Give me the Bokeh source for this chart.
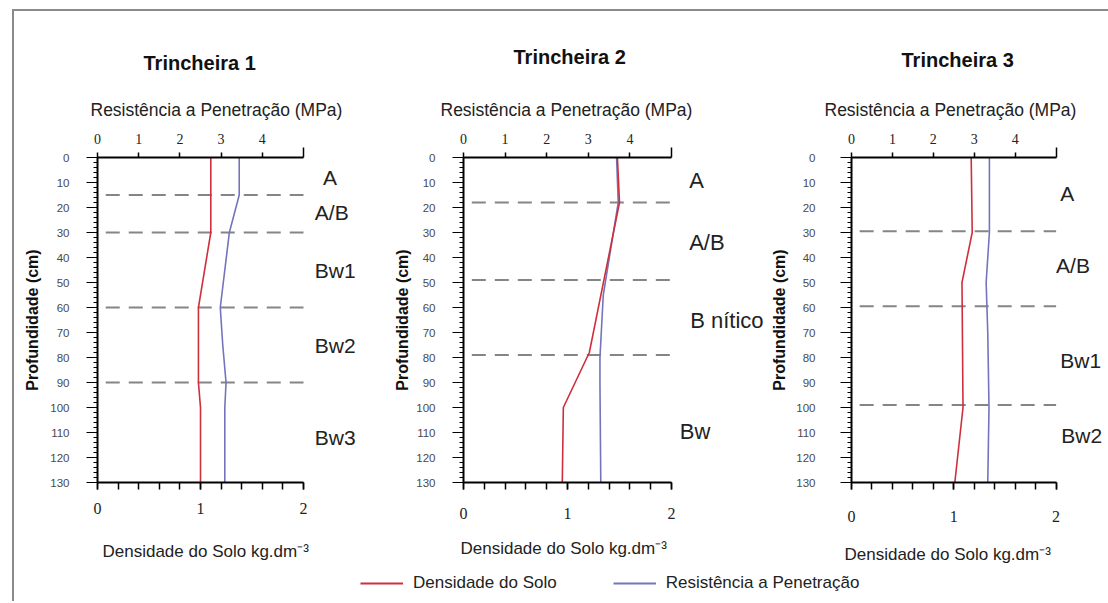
from bokeh.plotting import figure
from bokeh.models import Range1d, LinearAxis, FixedTicker, Label, Legend, LegendItem, Title
from bokeh.layouts import row, column
from bokeh.embed import file_html
from bokeh.resources import INLINE

# ---------------- data ----------------
titles = ["Trincheira 1", "Trincheira 2", "Trincheira 3"]
top_axis_title = "Resistência a Penetração (MPa)"
bottom_axis_title = "Densidade do Solo kg.dm⁻³"
depth_title = "Profundidade (cm)"
legend_labels = ["Densidade do Solo", "Resistência a Penetração"]

# Trincheira 1
dens_depth_1 = [0, 30, 60, 90, 100, 130]
dens_1 = [1.10, 1.10, 0.98, 0.98, 1.00, 1.00]
res_depth_1 = [0, 15, 30, 60, 75, 90, 100, 130]
res_1 = [3.44, 3.44, 3.20, 2.98, 3.04, 3.12, 3.09, 3.09]
bounds_1 = [15, 30, 60, 90]
horizons_1 = ["A", "A/B", "Bw1", "Bw2", "Bw3"]

# Trincheira 2
dens_depth_2 = [0, 18, 78, 100, 130]
dens_2 = [1.48, 1.50, 1.21, 0.96, 0.95]
res_depth_2 = [0, 18, 55, 80, 90, 130]
res_2 = [3.68, 3.72, 3.36, 3.28, 3.28, 3.30]
bounds_2 = [18, 49, 79]
horizons_2 = ["A", "A/B", "B nítico", "Bw"]

# Trincheira 3
dens_depth_3 = [0, 30, 50, 100, 130]
dens_3 = [1.17, 1.18, 1.08, 1.09, 1.01]
res_depth_3 = [0, 30, 50, 70, 100, 130]
res_3 = [3.37, 3.37, 3.29, 3.33, 3.36, 3.33]
bounds_3 = [29.5, 59.5, 99]
horizons_3 = ["A", "A/B", "Bw1", "Bw2"]

depth_ticks = list(range(0, 131, 10))
res_ticks = [0, 1, 2, 3, 4]
dens_ticks = [0, 1, 2]
DENS_MAX = 2.0
RES_MAX = 5.0

# ---------------- layout / style config ----------------
RED = "#cf2f3c"
BLUE = "#7474ba"
DASH = "#858585"

panels = [
    dict(title=titles[0], dd=dens_depth_1, d=dens_1, rd=res_depth_1, r=res_1,
         bounds=bounds_1, names=horizons_1,
         lab_depth=[8, 22, 45, 75, 112], lab_x=[2.19, 2.11, 2.11, 2.11, 2.11], lab_fs="21px",
         width=356, bl=83, axis_px=206, ylstand=17, yaxstand=6, xlstand=13, gap=19,
         t_off=46, t_stand=26, top_off=-7, top_stand=22, bot_off=5),
    dict(title=titles[1], dd=dens_depth_2, d=dens_2, rd=res_depth_2, r=res_2,
         bounds=bounds_2, names=horizons_2,
         lab_depth=[9, 34, 65, 109.5], lab_x=[2.17, 2.17, 2.18, 2.08], lab_fs="22px",
         width=398, bl=93, axis_px=208, ylstand=17, yaxstand=2, xlstand=18, gap=11,
         t_off=50, t_stand=38, top_off=-23, top_stand=22, bot_off=-3),
    dict(title=titles[2], dd=dens_depth_3, d=dens_3, rd=res_depth_3, r=res_3,
         bounds=bounds_3, names=horizons_3,
         lab_depth=[14.5, 43, 81, 111], lab_x=[2.04, 2.0, 2.04, 2.05], lab_fs="21px",
         width=340, bl=80, axis_px=207, ylstand=25, yaxstand=5, xlstand=21, gap=14,
         t_off=50, t_stand=31, top_off=-27, top_stand=22, bot_off=-7),
]

SANS = "Liberation Sans"
SERIF = "Liberation Serif"
PANEL_H = 552
TOP = 146
BOTTOM = 80


def make_panel(cfg):
    frame_w = cfg["width"] - cfg["bl"]
    xmax = DENS_MAX * frame_w / cfg["axis_px"]
    p = figure(width=cfg["width"], height=PANEL_H, output_backend="svg", title=None,
               toolbar_location=None, x_range=Range1d(0, xmax), y_range=Range1d(130, 0),
               min_border_left=cfg["bl"], min_border_right=0,
               min_border_top=TOP, min_border_bottom=BOTTOM,
               x_axis_location="below", y_axis_location="left")
    p.extra_x_ranges = {"res": Range1d(0, xmax * RES_MAX / DENS_MAX)}
    p.outline_line_color = None
    p.grid.visible = False
    p.background_fill_color = "white"
    p.border_fill_color = "white"

    # bottom axis: density (blank axis label only reserves a gap before the title)
    xa = p.xaxis[0]
    xa.bounds = (0, DENS_MAX)
    xa.ticker = FixedTicker(ticks=dens_ticks, minor_ticks=[i / 5 for i in range(11)])
    xa.major_label_text_font = SERIF
    xa.major_label_text_font_size = "16px"
    xa.major_label_text_color = "#222222"
    xa.major_label_standoff = cfg["xlstand"]
    xa.axis_label = " "
    xa.axis_label_text_font_size = "1px"
    xa.axis_label_standoff = cfg["gap"]
    xa.axis_line_width = 2
    xa.major_tick_out = 7
    xa.major_tick_in = 0
    xa.minor_tick_out = 7
    xa.minor_tick_in = 0
    xa.major_tick_line_width = 1.5
    xa.minor_tick_line_width = 1.5
    p.add_layout(Title(text=bottom_axis_title, align="left", offset=cfg["bot_off"],
                       standoff=0, text_font=SANS, text_font_size="17px",
                       text_font_style="normal", text_color="#222222"), "below")

    # top axis: resistance
    ta = LinearAxis(x_range_name="res")
    ta.bounds = (0, RES_MAX)
    ta.ticker = FixedTicker(ticks=res_ticks, minor_ticks=[RES_MAX])
    ta.major_label_text_font = SERIF
    ta.major_label_text_font_size = "14px"
    ta.major_label_text_color = "#222222"
    ta.major_label_standoff = 4
    ta.axis_line_width = 2
    ta.major_tick_out = 5
    ta.major_tick_in = 0
    ta.minor_tick_out = 10
    ta.minor_tick_in = 0
    ta.major_tick_line_width = 1.5
    ta.minor_tick_line_width = 1.5
    p.add_layout(ta, "above")
    p.add_layout(Title(text=top_axis_title, align="left", offset=cfg["top_off"],
                       standoff=cfg["top_stand"], text_font=SANS, text_font_size="17.5px",
                       text_font_style="normal", text_color="#222222"), "above")
    p.add_layout(Title(text=cfg["title"], align="left", offset=cfg["t_off"],
                       standoff=cfg["t_stand"], text_font=SANS, text_font_size="20px",
                       text_font_style="bold", text_color="#111111"), "above")

    # left axis: depth
    ya = p.yaxis[0]
    ya.ticker = FixedTicker(ticks=depth_ticks, minor_ticks=list(range(0, 131, 2)))
    ya.axis_label = depth_title
    ya.axis_label_text_font = SANS
    ya.axis_label_text_font_size = "16px"
    ya.axis_label_text_font_style = "bold"
    ya.axis_label_text_color = "#111111"
    ya.axis_label_standoff = cfg["yaxstand"]
    ya.major_label_text_font = SANS
    ya.major_label_text_font_size = "11.5px"
    ya.major_label_text_color = "#4a4a4a"
    ya.major_label_standoff = cfg["ylstand"]
    ya.axis_line_width = 2
    ya.major_tick_out = 11
    ya.major_tick_in = 0
    ya.minor_tick_out = 4
    ya.minor_tick_in = 0
    ya.major_tick_line_width = 1.2
    ya.minor_tick_line_width = 1

    # horizon boundaries
    n = len(cfg["bounds"])
    p.segment(x0=[0.08] * n, x1=[DENS_MAX] * n, y0=cfg["bounds"], y1=cfg["bounds"],
              line_color=DASH, line_width=2, line_dash="14 9")

    # profiles
    p.line(x=cfg["r"], y=cfg["rd"], x_range_name="res", line_color=BLUE, line_width=1.6)
    p.line(x=cfg["d"], y=cfg["dd"], line_color=RED, line_width=1.6)

    # horizon names
    for name, dep, lx in zip(cfg["names"], cfg["lab_depth"], cfg["lab_x"]):
        p.add_layout(Label(x=lx, y=dep, text=name, text_align="left",
                           text_baseline="middle", text_font=SANS,
                           text_font_size=cfg["lab_fs"], text_color="#222222"))
    return p


figs = [make_panel(c) for c in panels]

# legend strip (renderers reuse panel-2 data, kept outside the visible range)
leg = figure(width=1094, height=38, output_backend="svg", toolbar_location=None,
             x_range=Range1d(0, 1), y_range=Range1d(1000, 2000),
             x_axis_type=None, y_axis_type=None,
             min_border_left=0, min_border_right=0, min_border_top=0, min_border_bottom=0)
leg.outline_line_color = None
leg.grid.visible = False
r_red = leg.line(x=dens_2, y=dens_depth_2, line_color=RED, line_width=2)
r_blue = leg.line(x=res_2, y=res_depth_2, line_color=BLUE, line_width=2)
legend = Legend(items=[LegendItem(label=legend_labels[0], renderers=[r_red]),
                       LegendItem(label=legend_labels[1], renderers=[r_blue])],
                orientation="horizontal", location=(346, 8),
                glyph_width=43, glyph_height=20, label_standoff=10, spacing=56,
                padding=0, margin=0, border_line_color=None, background_fill_alpha=0,
                label_text_font=SANS, label_text_font_size="17px",
                label_text_color="#222222")
leg.add_layout(legend)

layout = column(row(*figs, spacing=0), leg, spacing=0,
                styles={"border-left": "2px solid #8a8a8a", "border-top": "2px solid #8a8a8a",
                        "margin-left": "12px", "margin-top": "9px"})

open("out.html", "w").write(file_html(layout, INLINE))
